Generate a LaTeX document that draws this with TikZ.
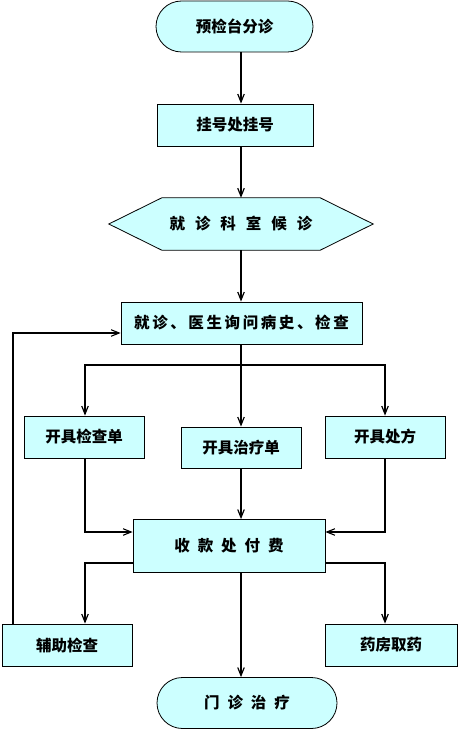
\documentclass[tikz,border=0pt]{standalone}
\usepackage{fontspec}
\newfontfamily\cjk{Noto Sans CJK SC}
\usetikzlibrary{arrows.meta}
\definecolor{boxfill}{RGB}{204,255,255}
\newcommand\gp[1]{\hspace{#1pt}}
\begin{document}
\begin{tikzpicture}[x=1pt,y=-1pt,
  base/.style={draw=black,line width=0.8pt,fill=boxfill,inner sep=0pt,
    font=\cjk\bfseries\fontsize{15.5}{18}\selectfont},
  rbox/.style={base,rectangle,minimum width=#1},
  term/.style={base,rectangle,rounded corners=25.5pt,minimum width=#1,minimum height=51pt},
  arr/.style={line width=2.8pt,-{Straight Barb[length=8pt,width=6.5pt,line width=1.2pt]}},
  tarr/.style={line width=2.3pt,-{Straight Barb[length=8pt,width=6.5pt,line width=1.1pt]}},
  tline/.style={line width=2.3pt}]
\useasboundingbox (0,0) rectangle (458,730);
\fill[white] (0,0) rectangle (458,730);
% nodes
\node[term=157pt] (top) at (234.5,26.5) {预检台分诊};
\node[rbox=156pt,minimum height=42pt] (reg) at (235,125) {挂号处挂号};
\node[minimum width=264pt,minimum height=52pt,inner sep=0pt] (hex) at (241,224) {};
\fill[boxfill,draw=black,line width=0.8pt] (hex.west) -- ([xshift=53pt]hex.north west) -- ([xshift=-53pt]hex.north east) -- (hex.east) -- ([xshift=-53pt]hex.south east) -- ([xshift=53pt]hex.south west) -- cycle;
\node[font=\cjk\bfseries\fontsize{15.5}{18}\selectfont,inner sep=0pt] (hext) at (hex.center) {就\gp{10}诊\gp{10}科\gp{10}室\gp{10}候\gp{10}诊};
\node[rbox=241pt,minimum height=42pt] (exam) at (241.5,323) {就\kern2.6pt诊\kern2.6pt、\kern2.6pt医\kern2.6pt生\kern2.6pt询\kern2.6pt问\kern2.6pt病\kern2.6pt史\kern2.6pt、\kern2.6pt检\kern2.6pt查};
\node[rbox=120pt,minimum height=42pt] (chk) at (84,437) {开具检查单};
\node[rbox=120pt,minimum height=41pt] (trt) at (241,447.5) {开具治疗单};
\node[rbox=120pt,minimum height=42pt] (rx) at (385,437) {开具处方};
\node[rbox=192pt,minimum height=53pt] (pay) at (229,546) {收\gp{8}款\gp{8}处\gp{8}付\gp{8}费};
\node[rbox=130pt,minimum height=42pt] (aux) at (67,645) {辅助检查};
\node[rbox=132pt,minimum height=42pt] (ph) at (391,645) {药房取药};
\node[term=180pt] (end) at (247,703) {门\gp{8}诊\gp{8}治\gp{8}疗};
% helper coordinates
\coordinate (spine) at (241,0);
\coordinate (br) at (241,365);
\coordinate (fin) at (0,532);
\coordinate (out) at (0,563);
\coordinate (loopx) at (13,0);
\coordinate (loopy) at (0,333);
% connectors
\draw[arr] (top.south -| spine) -- (reg.north -| spine);
\draw[arr] (reg.south -| spine) -- (hex.north -| spine);
\draw[arr] (hex.south -| spine) -- (exam.north -| spine);
\draw[arr] (exam.south -| spine) -- (trt.north -| spine);
\draw[arr] (br) -| ([xshift=1pt]chk.north);
\draw[arr] (br) -| (rx.north);
\draw[tarr] ([xshift=1pt]chk.south) |- (pay.west |- fin);
\draw[tarr] (rx.south) |- (pay.east |- fin);
\draw[arr] (trt.south -| spine) -- (pay.north -| spine);
\draw[arr] (pay.west |- out) -| ([xshift=18pt]aux.north);
\draw[arr] (pay.east |- out) -| (ph.north -| rx.south);
\draw[arr] (pay.south -| spine) -- (end.north -| spine);
\draw[tarr] (aux.north -| loopx) |- (exam.west |- loopy);
\end{tikzpicture}
\end{document}
